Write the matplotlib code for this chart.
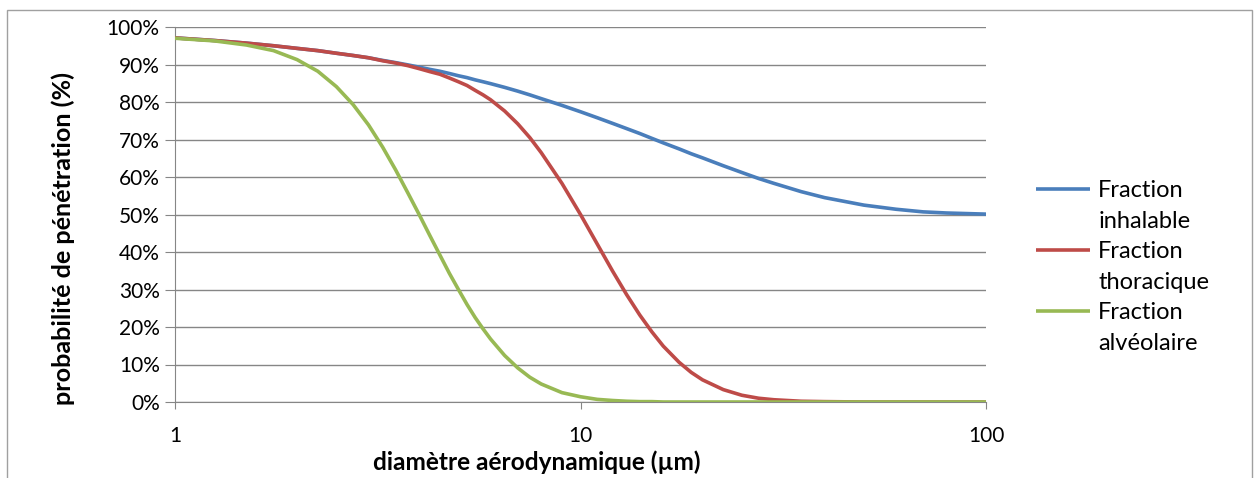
import matplotlib
matplotlib.use("Agg")
import matplotlib.pyplot as plt
import matplotlib.ticker as mticker
from matplotlib.legend_handler import HandlerLine2D
from matplotlib.patches import Rectangle

# diamètre aérodynamique (µm) and penetration probability (%)
diametre = [1, 1.25, 1.5, 1.75, 2, 2.25, 2.5, 2.75, 3, 3.25, 3.5, 3.75, 4, 4.25,
            4.5, 4.75, 5, 5.25, 5.5, 5.75, 6, 6.5, 7, 7.5, 8, 9, 10, 11, 12, 13,
            14, 15, 16, 17.5, 18.75, 20, 22.5, 25, 27.5, 30, 35, 40, 50, 60, 70,
            80, 100]
inhalable = [97.1, 96.4, 95.7, 95.0, 94.3, 93.7, 93.0, 92.4, 91.8, 91.1, 90.5,
             89.9, 89.3, 88.7, 88.2, 87.6, 87.0, 86.5, 85.9, 85.4, 84.9, 83.9,
             82.9, 81.9, 80.9, 79.1, 77.4, 75.8, 74.3, 72.9, 71.6, 70.3, 69.1,
             67.5, 66.2, 65.1, 63.0, 61.2, 59.6, 58.3, 56.1, 54.5, 52.5, 51.4,
             50.7, 50.4, 50.1]
thoracique = [97.1, 96.4, 95.7, 95.0, 94.3, 93.7, 93.0, 92.4, 91.8, 91.0, 90.4,
              89.7, 88.9, 88.1, 87.4, 86.4, 85.4, 84.4, 83.1, 81.9, 80.6, 77.6,
              74.2, 70.5, 66.5, 58.3, 50.0, 42.1, 34.9, 28.6, 23.2, 18.7, 14.9,
              10.6, 7.9, 5.9, 3.3, 1.8, 1.0, 0.6, 0.2, 0.1, 0.0, 0.0, 0.0, 0.0,
              0.0]
alveolaire = [97.0, 96.3, 95.2, 93.7, 91.3, 88.2, 84.1, 79.3, 73.9, 68.0, 61.9,
              55.8, 50.0, 44.4, 39.2, 34.3, 30.0, 26.0, 22.5, 19.5, 16.8, 12.4,
              9.1, 6.6, 4.8, 2.5, 1.4, 0.7, 0.4, 0.2, 0.1, 0.1, 0.0, 0.0, 0.0,
              0.0, 0.0, 0.0, 0.0, 0.0, 0.0, 0.0, 0.0, 0.0, 0.0, 0.0, 0.0]

series = [
    ("Fraction\ninhalable", inhalable, "#4A7EBB"),
    ("Fraction\nthoracique", thoracique, "#BE4B48"),
    ("Fraction\nalvéolaire", alveolaire, "#98B954"),
]

plt.rcParams["font.family"] = ["Lato", "DejaVu Sans"]
GRID = "#868686"
LEG_FS = 17


# legend line sits on the first line of a two-line label
class TopLineHandler(HandlerLine2D):
    def create_artists(self, legend, orig_handle, xdescent, ydescent,
                       width, height, fontsize, trans):
        artists = super().create_artists(legend, orig_handle, xdescent, ydescent,
                                         width, height, fontsize, trans)
        for a in artists:
            a.set_ydata([y + 0.72 * fontsize for y in a.get_ydata()])
        return artists


fig = plt.figure(figsize=(12.55, 4.78), dpi=100)
ax = fig.add_axes([175 / 1255, 1 - 402 / 478, (986 - 175) / 1255, (402 - 27) / 478])

for label, values, color in series:
    ax.plot(diametre, values, color=color, lw=2.6, label=label,
            solid_capstyle="butt", solid_joinstyle="round", zorder=3)

ax.set_xscale("log")
ax.set_xlim(1, 100)
ax.set_ylim(0, 100)
ax.set_yticks(range(0, 101, 10))
ax.yaxis.set_major_formatter(mticker.FuncFormatter(lambda v, p: "%d%%" % v))
ax.set_xticks([1, 10, 100])
ax.xaxis.set_major_formatter(mticker.FuncFormatter(lambda v, p: "%g" % v))
ax.xaxis.set_minor_locator(mticker.NullLocator())

ax.grid(axis="y", color=GRID, lw=1)
for pos in ["top", "right"]:
    ax.spines[pos].set_visible(False)
ax.spines["left"].set_color(GRID)
ax.spines["bottom"].set_color(GRID)
ax.tick_params(axis="y", length=7, color=GRID, labelsize=15, pad=4)
ax.tick_params(axis="x", length=5, color=GRID, labelsize=15, pad=12)

ax.set_ylabel("probabilité de pénétration (%)", fontsize=18.1, fontweight="bold")
ax.yaxis.set_label_coords(-0.123, 0.437)
ax.set_xlabel("diamètre aérodynamique (µm)", fontsize=17.6, fontweight="bold")
ax.xaxis.set_label_coords(0.446, -0.128)

leg = ax.legend(loc="center left", bbox_to_anchor=(1.035, 0.36), frameon=False,
                fontsize=LEG_FS, handlelength=2.3, handletextpad=0.35,
                labelspacing=0.37, handler_map={plt.Line2D: TopLineHandler()})
for t in leg.get_texts():
    t.set_multialignment("left")
    t.set_linespacing(1.6)

fig.patches.append(Rectangle((7 / 1255, -0.1), (1252 - 7) / 1255, 1.1 - 10 / 478,
                             transform=fig.transFigure, fill=False,
                             edgecolor="#a0a0a0", lw=1))

fig.savefig("out.png", dpi=100)
